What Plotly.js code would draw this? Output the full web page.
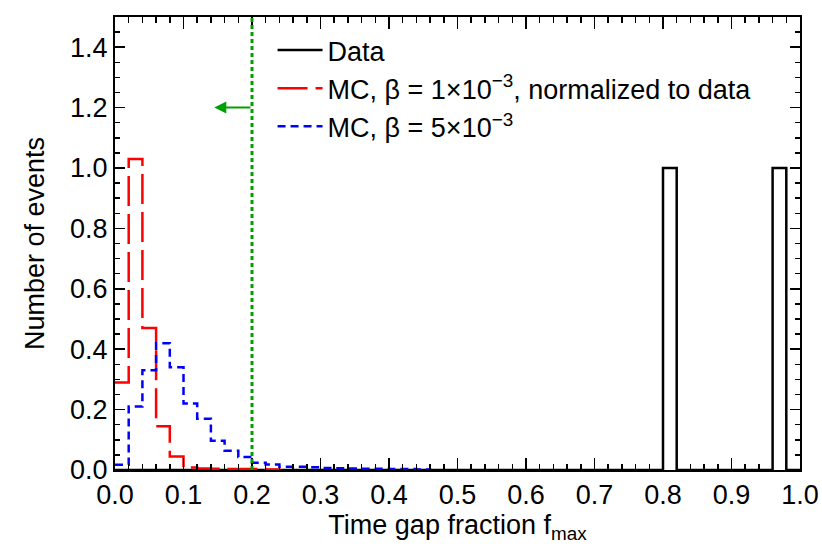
<!DOCTYPE html>
<html>
<head>
<meta charset="utf-8">
<script src="https://cdn.plot.ly/plotly-3.0.1.min.js"></script>
<style>
  body { margin: 0; background: #fff; }
  #chart { width: 822px; height: 548px; }
</style>
</head>
<body>
<div id="chart"></div>
<script>
const BIN_WIDTH = 0.02
const CUT = 0.2

// counts per bin, bins start at 0 with width 0.02
const dataCounts = [
  0, 0, 0, 0, 0, 0, 0, 0, 0, 0,
  0, 0, 0, 0, 0, 0, 0, 0, 0, 0,
  0, 0, 0, 0, 0, 0, 0, 0, 0, 0,
  0, 0, 0, 0, 0, 0, 0, 0, 0, 0,
  1, 0, 0, 0, 0, 0, 0, 0, 1, 0
]
const mcBeta1 = [0.29, 1.03, 0.47, 0.145, 0.045, 0.008, 0.005, 0.004, 0.003, 0.003, 0.003, 0.002]
const mcBeta5 = [0.017, 0.21, 0.33, 0.42, 0.34, 0.22, 0.17, 0.097, 0.064, 0.043, 0.024, 0.018,
  0.011, 0.011, 0.009, 0.007, 0.006, 0.005, 0.004, 0.004, 0.003, 0.003, 0.002]

const xTicks = ['0.0', '0.1', '0.2', '0.3', '0.4', '0.5', '0.6', '0.7', '0.8', '0.9', '1.0']
const yTicks = ['0.0', '0.2', '0.4', '0.6', '0.8', '1.0', '1.2', '1.4']

function stepTrace(counts, name, color, dash, dropToZero) {
  let x = counts.map((c, i) => i * BIN_WIDTH)
  let y = counts.slice()
  x.push(counts.length * BIN_WIDTH)
  y.push(dropToZero ? 0 : counts[counts.length - 1])
  return {
    x: x,
    y: y,
    name: name,
    type: 'scatter',
    mode: 'lines',
    line: { shape: 'hv', color: color, width: 2.5, dash: dash },
    hoverinfo: 'skip'
  }
}

let data = [
  stepTrace(dataCounts, 'Data', '#000000', 'solid', false),
  stepTrace(mcBeta1, 'MC, \u03b2 = 1\u00d710<sup>\u22123</sup>, normalized to data', '#ff0000', '30px,8px', true),
  stepTrace(mcBeta5, 'MC, \u03b2 = 5\u00d710<sup>\u22123</sup>', '#0000ff', '8px,5px', true)
]

const axisCommon = {
  ticks: 'inside',
  tickwidth: 1.5,
  tickcolor: '#000',
  showline: true,
  linewidth: 2,
  linecolor: '#000',
  mirror: 'ticks',
  showgrid: false,
  zeroline: false,
  fixedrange: true,
  tickfont: { size: 27, color: '#000' }
}

let layout = {
  width: 822,
  height: 548,
  paper_bgcolor: '#fff',
  plot_bgcolor: '#fff',
  font: { family: 'Liberation Sans, Arial, sans-serif', color: '#000' },
  margin: { l: 115, r: 22, t: 17, b: 78 },
  showlegend: true,
  legend: {
    x: 0.23,
    y: 0.98,
    xanchor: 'left',
    yanchor: 'top',
    bgcolor: 'rgba(0,0,0,0)',
    font: { size: 27, color: '#000' },
    itemwidth: 45
  },
  xaxis: Object.assign({}, axisCommon, {
    range: [0, 1],
    tickmode: 'array',
    tickvals: xTicks.map(Number),
    ticktext: xTicks,
    ticklen: 12,
    minor: { dtick: BIN_WIDTH, tick0: 0, ticklen: 6, tickwidth: 1.5, tickcolor: '#000', ticks: 'inside', showgrid: false },
    title: { text: 'Time gap fraction f<sub>max</sub>', font: { size: 27 }, standoff: 0 }
  }),
  yaxis: Object.assign({}, axisCommon, {
    range: [0, 1.5],
    tickmode: 'array',
    tickvals: yTicks.map(Number),
    ticktext: yTicks,
    ticklen: 10,
    minor: { dtick: 0.05, tick0: 0, ticklen: 5, tickwidth: 1.5, tickcolor: '#000', ticks: 'inside', showgrid: false },
    title: { text: 'Number of events', font: { size: 27 }, standoff: 18 }
  }),
  shapes: [
    {
      type: 'line', xref: 'x', yref: 'paper',
      x0: CUT, x1: CUT, y0: 0, y1: 1,
      line: { color: '#00a000', width: 3, dash: '4px,3px' }
    }
  ],
  annotations: [
    {
      x: 0.145, y: 1.2, ax: CUT, ay: 1.2,
      xref: 'x', yref: 'y', axref: 'x', ayref: 'y',
      text: '', showarrow: true,
      arrowhead: 2, arrowsize: 1.2, arrowwidth: 2, arrowcolor: '#00a000'
    }
  ]
}

let config = { displayModeBar: false, staticPlot: true }

Plotly.newPlot('chart', data, layout, config)
</script>
</body>
</html>
